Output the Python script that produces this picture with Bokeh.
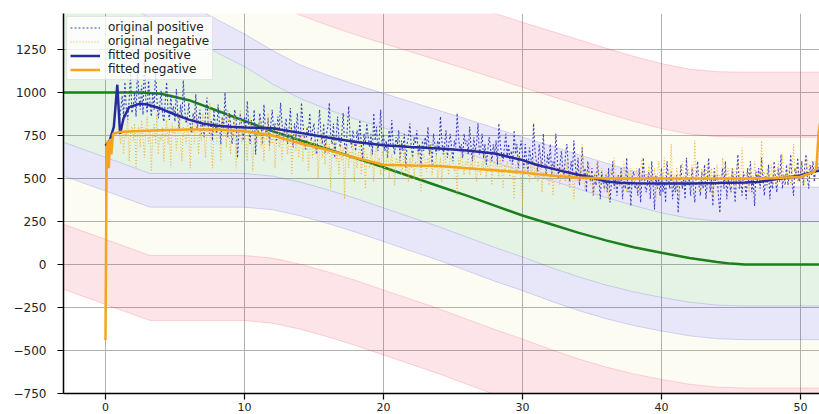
from bokeh.plotting import figure
from bokeh.models import Range1d, FixedTicker, Legend, LegendItem
from bokeh.embed import file_html
from bokeh.resources import INLINE

# ---------------- data ----------------
x_ticks = [0, 10, 20, 30, 40, 50]
y_ticks = [-750, -500, -250, 0, 250, 500, 750, 1000, 1250]
y_labels = {-750: "\u2212750", -500: "\u2212500", -250: "\u2212250", 0: "0",
            250: "250", 500: "500", 750: "750", 1000: "1000", 1250: "1250"}

# band edges (lower: green/blue, blue/yellow, yellow/red, red/white; upper likewise)
band_x = [-3.1, 0, 3.2, 10, 12, 14, 16, 18, 20, 22, 24, 26, 28, 30, 32, 34, 36, 38, 40, 42, 44, 46, 51.4]
low1 = [713, 623, 529, 529, 514, 479, 434, 384, 329, 274, 219, 159, 99, 44, -16, -71, -119, -159, -191, -219, -236, -241, -241]
low2 = [517, 427, 333, 333, 318, 283, 238, 188, 133, 78, 23, -37, -97, -152, -212, -267, -315, -355, -387, -415, -432, -437, -437]
low3 = [236, 146, 52, 52, 37, 2, -43, -93, -148, -203, -258, -318, -378, -433, -493, -548, -596, -636, -668, -696, -713, -718, -718]
low4 = [-142, -232, -326, -326, -341, -376, -421, -471, -526, -581, -636, -696, -756, -811, -871, -926, -974, -1014, -1046, -1074, -1091, -1096, -1096]
up1 = [1750, 1600, 1430, 1150, 1050, 965, 900, 845, 795, 745, 695, 645, 593, 540, 490, 440, 390, 342, 300, 268, 253, 250, 250]
up2 = [1950, 1800, 1630, 1340, 1245, 1160, 1100, 1045, 995, 945, 895, 845, 793, 740, 690, 640, 590, 542, 500, 468, 453, 450, 450]
up3 = [2140, 1990, 1850, 1620, 1530, 1450, 1390, 1335, 1285, 1235, 1185, 1135, 1083, 1030, 980, 930, 880, 832, 790, 758, 743, 740, 740]
up4 = [2518, 2368, 2228, 1998, 1908, 1828, 1768, 1713, 1663, 1613, 1563, 1513, 1461, 1408, 1358, 1308, 1258, 1210, 1168, 1136, 1121, 1118, 1118]

# green reference line
ref_x = [-3.1, 0, 2.5, 4, 6, 8, 10, 12, 14, 16, 18, 20, 22, 24, 26, 28, 30, 32, 34, 36, 38, 40, 42, 44, 45, 46, 51.4]
ref_y = [1000, 1000, 1000, 992, 955, 895, 835, 775, 722, 670, 618, 565, 510, 455, 400, 342, 285, 235, 185, 140, 100, 68, 38, 14, 5, 0, 0]

# fitted positive
fp_x = [0, 0.3, 0.6, 0.85, 1.05, 1.3, 1.7, 2.5, 3, 4, 5, 6, 7, 8, 9, 10, 12, 14, 16, 18, 20, 22, 24, 26, 28, 30,
        31, 32, 33, 34, 35, 36, 37, 38, 40, 42, 44, 46, 47, 48, 49, 50, 51, 51.4]
fp_y = [690, 720, 800, 1045, 760, 850, 915, 935, 930, 905, 872, 842, 820, 806, 800, 797, 792, 765, 738, 712, 693, 683, 674, 662, 645, 607,
        580, 560, 540, 522, 506, 482, 475, 472, 471, 471, 473, 476, 480, 492, 505, 517, 540, 546]

# fitted negative
fn_x = [0, 0.08, 0.16, 0.24, 0.34, 0.42, 0.55, 1, 2, 4, 6, 8, 10, 12, 14, 16, 18, 20, 22, 24, 26, 28, 30,
        32, 34, 36, 38, 40, 42, 44, 46, 48, 50, 51, 51.15, 51.3, 51.4]
fn_y = [-440, 600, 720, 560, 730, 640, 760, 770, 775, 780, 785, 785, 775, 750, 705, 665, 620, 580, 575, 572, 560, 548, 535,
        517, 505, 500, 500, 500, 500, 500, 500, 502, 510, 540, 560, 760, 820]

# original positive, sampled every 0.1 from x = 1.0 (one row per unit of x)
orig_pos = [
    820, 900, 980, 860, 1060, 900, 840, 950, 1110, 880,
    920, 1000, 860, 1150, 980, 900, 1040, 870, 1190, 960,
    880, 1080, 940, 860, 1000, 900, 1130, 960, 850, 920,
    1010, 880, 830, 950, 1060, 890, 840, 990, 870, 920,
    830, 1020, 880, 790, 930, 850, 1070, 900, 820, 860,
    940, 800, 760, 880, 830, 990, 780, 850, 900, 760,
    820, 740, 880, 970, 800, 760, 840, 720, 900, 810,
    760, 930, 820, 700, 860, 790, 1000, 830, 740, 880,
    820, 700, 780, 900, 840, 620, 760, 880, 800, 720,
    860, 780, 950, 820, 700, 840, 760, 900, 640, 800,
    760, 880, 820, 700, 930, 790, 740, 850, 690, 820,
    900, 760, 820, 700, 860, 780, 940, 820, 720, 800,
    850, 700, 780, 910, 760, 680, 820, 740, 880, 760,
    700, 940, 820, 740, 660, 800, 760, 880, 720, 780,
    820, 700, 640, 780, 900, 760, 700, 820, 650, 760,
    800, 940, 760, 700, 820, 620, 740, 860, 720, 680,
    760, 880, 700, 640, 800, 920, 740, 680, 780, 720,
    660, 780, 720, 840, 700, 600, 760, 700, 820, 740,
    680, 760, 640, 880, 720, 800, 660, 740, 900, 700,
    760, 660, 720, 620, 780, 700, 840, 690, 640, 740,
    700, 780, 600, 720, 660, 760, 560, 700, 740, 820,
    680, 620, 740, 700, 780, 640, 700, 560, 720, 660,
    740, 680, 800, 640, 700, 580, 760, 690, 640, 720,
    660, 860, 720, 640, 700, 780, 620, 700, 760, 680,
    600, 720, 680, 880, 740, 660, 700, 620, 760, 700,
    720, 640, 800, 680, 600, 740, 660, 700, 820, 640,
    680, 760, 620, 700, 580, 660, 740, 680, 600, 700,
    640, 720, 580, 820, 700, 640, 600, 680, 760, 620,
    700, 600, 660, 580, 780, 640, 700, 560, 660, 720,
    640, 560, 700, 600, 540, 680, 620, 580, 820, 660,
    600, 540, 700, 620, 560, 760, 600, 520, 640, 580,
    700, 520, 600, 560, 760, 620, 500, 580, 660, 560,
    520, 640, 700, 560, 480, 600, 540, 720, 580, 500,
    620, 460, 540, 680, 500, 560, 420, 600, 520, 480,
    560, 400, 520, 460, 600, 500, 380, 540, 480, 440,
    520, 420, 560, 360, 480, 600, 440, 500, 400, 520,
    460, 560, 380, 500, 440, 620, 420, 480, 340, 520,
    540, 440, 480, 400, 560, 360, 500, 620, 460, 420,
    480, 540, 380, 600, 460, 320, 520, 440, 500, 400,
    560, 420, 480, 360, 600, 500, 440, 540, 380, 480,
    420, 520, 300, 460, 580, 440, 500, 380, 620, 460,
    500, 400, 560, 440, 360, 520, 600, 460, 400, 540,
    440, 580, 380, 480, 620, 420, 500, 340, 560, 460,
    520, 400, 300, 480, 560, 440, 600, 380, 500, 460,
    420, 560, 480, 360, 520, 640, 440, 500, 400, 540,
    480, 380, 560, 460, 600, 420, 500, 340, 540, 480,
    560, 440, 620, 500, 400, 520, 460, 580, 380, 500,
    440, 600, 500, 420, 560, 480, 640, 440, 520, 460,
    580, 460, 520, 640, 480, 400, 560, 500, 620, 480,
    520, 600, 460, 560, 640, 500, 440, 580, 520, 600,
    480, 560, 620, 540,
]

# original negative, sampled every 0.1 from x = 1.0 (one row per unit of x)
orig_neg = [
    760, 700, 820, 640, 780, 740, 860, 600, 760, 800,
    720, 820, 560, 760, 800, 680, 840, 740, 620, 780,
    860, 700, 780, 540, 760, 820, 700, 880, 640, 760,
    720, 800, 600, 760, 840, 700, 780, 560, 820, 740,
    800, 660, 760, 880, 720, 600, 800, 760, 700, 840,
    740, 560, 780, 820, 700, 900, 760, 640, 800, 720,
    880, 740, 620, 800, 760, 940, 700, 560, 780, 820,
    700, 820, 760, 600, 860, 740, 800, 680, 900, 760,
    640, 780, 720, 860, 560, 800, 740, 900, 700, 780,
    820, 700, 600, 780, 860, 720, 540, 760, 800, 700,
    760, 840, 680, 740, 600, 800, 720, 880, 660, 760,
    700, 780, 560, 740, 820, 680, 760, 600, 720, 800,
    760, 640, 720, 800, 520, 700, 760, 660, 740, 620,
    680, 780, 600, 720, 660, 800, 540, 700, 740, 620,
    720, 640, 700, 500, 680, 760, 620, 700, 580, 720,
    640, 700, 440, 680, 620, 740, 600, 660, 520, 700,
    600, 680, 380, 640, 700, 560, 660, 600, 720, 480,
    660, 560, 640, 720, 520, 620, 680, 440, 640, 600,
    560, 660, 600, 480, 640, 700, 580, 620, 520, 660,
    620, 540, 600, 680, 500, 580, 640, 560, 460, 620,
    600, 560, 660, 520, 580, 700, 540, 600, 480, 620,
    560, 640, 500, 600, 560, 660, 580, 420, 600, 640,
    600, 540, 620, 580, 700, 520, 600, 560, 640, 500,
    560, 620, 480, 600, 660, 560, 580, 520, 640, 600,
    600, 540, 580, 400, 620, 560, 660, 580, 520, 600,
    580, 620, 520, 600, 560, 680, 540, 480, 600, 560,
    520, 600, 560, 640, 500, 580, 540, 620, 460, 580,
    600, 540, 580, 500, 620, 560, 440, 580, 540, 600,
    560, 500, 600, 540, 380, 580, 520, 640, 540, 500,
    340, 560, 520, 600, 540, 480, 580, 520, 640, 500,
    560, 480, 540, 600, 420, 540, 500, 580, 520, 460,
    500, 560, 400, 540, 600, 500, 520, 460, 580, 520,
    540, 480, 600, 500, 440, 560, 520, 380, 540, 500,
    480, 560, 520, 700, 500, 440, 540, 500, 580, 460,
    520, 400, 540, 480, 600, 500, 460, 560, 500, 420,
    540, 480, 380, 520, 560, 500, 620, 460, 520, 500,
    460, 540, 500, 600, 480, 420, 540, 500, 560, 480,
    520, 460, 560, 500, 400, 540, 620, 500, 460, 540,
    500, 580, 460, 520, 480, 560, 380, 520, 600, 480,
    540, 480, 620, 500, 460, 540, 500, 700, 480, 520,
    460, 560, 500, 380, 540, 600, 480, 520, 460, 560,
    520, 480, 580, 500, 720, 460, 540, 500, 420, 560,
    500, 540, 460, 600, 520, 480, 560, 400, 540, 500,
    580, 460, 520, 500, 620, 540, 480, 500, 560, 440,
    500, 560, 480, 540, 460, 600, 520, 480, 680, 500,
    460, 540, 500, 420, 560, 520, 480, 600, 500, 540,
    520, 480, 720, 500, 540, 460, 560, 500, 480, 580,
    500, 560, 460, 520, 600, 480, 540, 640, 500, 460,
    540, 500, 580, 460, 520, 700, 500, 560, 480, 540,
    500, 580, 520, 460, 560, 620, 500, 540, 580, 520,
    560, 600, 540, 700,
]
orig_pos_x = [round(1.0 + 0.1 * i, 2) for i in range(len(orig_pos))]
orig_neg_x = [round(1.0 + 0.1 * i, 2) for i in range(len(orig_neg))]

# ---------------- figure ----------------
p = figure(width=819, height=414, output_backend="svg", toolbar_location=None,
           x_range=Range1d(-3.02, 51.37), y_range=Range1d(-750, 1459),
           min_border_left=63, min_border_right=0, min_border_top=13, min_border_bottom=21)
p.outline_line_color = None
p.background_fill_color = "white"
p.border_fill_color = "white"

GREEN_F, BLUE_F, YEL_F, RED_F = "#2aa02a", "#3a3ad0", "#e8d040", "#f03050"
p.varea(x=band_x, y1=low1, y2=up1, fill_color=GREEN_F, fill_alpha=0.12)
p.varea(x=band_x, y1=low2, y2=low1, fill_color=BLUE_F, fill_alpha=0.12)
p.varea(x=band_x, y1=up1, y2=up2, fill_color=BLUE_F, fill_alpha=0.12)
p.varea(x=band_x, y1=low3, y2=low2, fill_color=YEL_F, fill_alpha=0.07)
p.varea(x=band_x, y1=up2, y2=up3, fill_color=YEL_F, fill_alpha=0.07)
p.varea(x=band_x, y1=low4, y2=low3, fill_color=RED_F, fill_alpha=0.13)
p.varea(x=band_x, y1=up3, y2=up4, fill_color=RED_F, fill_alpha=0.13)
for edge, col in [(low1, BLUE_F), (up1, BLUE_F), (low2, BLUE_F), (up2, BLUE_F),
                  (low3, RED_F), (up3, RED_F), (low4, RED_F), (up4, RED_F)]:
    p.line(band_x, edge, line_color=col, line_alpha=0.18, line_width=1)

p.line(ref_x, ref_y, line_color="#1b7f1b", line_width=2.5)
r_op = p.line(orig_pos_x, orig_pos, line_color="#3b3fc0", line_width=1.1, line_dash="2 2")
r_on = p.line(orig_neg_x, orig_neg, line_color="#f2b43a", line_width=1.1, line_dash="1 2")
r_fp = p.line(fp_x, fp_y, line_color="#272c9c", line_width=2.5)
r_fn = p.line(fn_x, fn_y, line_color="#f5a41c", line_width=2.5)

legend = Legend(items=[
    LegendItem(label="original positive", renderers=[r_op]),
    LegendItem(label="original negative", renderers=[r_on]),
    LegendItem(label="fitted positive", renderers=[r_fp]),
    LegendItem(label="fitted negative", renderers=[r_fn]),
], location="top_left")
legend.margin = 3
legend.padding = 3
legend.spacing = 0
legend.glyph_width = 30
legend.glyph_height = 13
legend.label_standoff = 8
legend.label_height = 13
legend.label_text_font = "DejaVu Sans"
legend.label_text_font_size = "12px"
legend.label_text_color = "#222222"
legend.background_fill_color = "white"
legend.background_fill_alpha = 0.8
legend.border_line_color = "#cccccc"
legend.border_line_width = 1
p.add_layout(legend)

p.xaxis.ticker = FixedTicker(ticks=x_ticks)
p.yaxis.ticker = FixedTicker(ticks=y_ticks)
p.yaxis.major_label_overrides = y_labels
p.xgrid.ticker = FixedTicker(ticks=x_ticks)
p.ygrid.ticker = FixedTicker(ticks=y_ticks)
for g in (p.xgrid, p.ygrid):
    g.grid_line_color = "#b0b0b0"
    g.grid_line_width = 1
    g.grid_line_alpha = 1.0
for ax in (p.xaxis, p.yaxis):
    ax.axis_line_color = "black"
    ax.axis_line_width = 1.5
    ax.major_tick_line_color = "black"
    ax.major_tick_line_width = 1.2
    ax.major_tick_out = 6
    ax.major_tick_in = 0
    ax.minor_tick_line_color = None
    ax.major_label_text_font = "DejaVu Sans"
    ax.major_label_text_color = "#222222"
p.xaxis.major_label_text_font_size = "11px"
p.yaxis.major_label_text_font_size = "12px"
p.xaxis.major_label_standoff = 3
p.yaxis.major_label_standoff = 11

open("out.html", "w").write(file_html(p, INLINE))
